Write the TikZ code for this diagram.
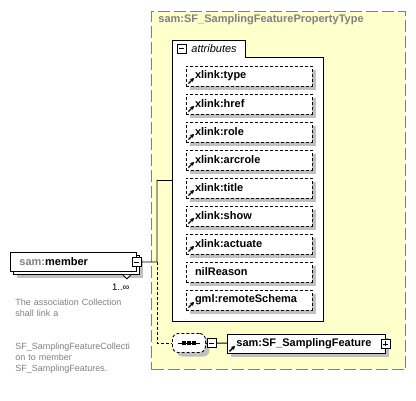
\documentclass[tikz,border=0pt]{standalone}
\usepackage{fontspec}
\setmainfont{Liberation Sans}
\usetikzlibrary{positioning, shadows, arrows.meta}
\definecolor{paleyellow}{HTML}{FFFFCC}
\definecolor{shadowgray}{HTML}{C0C0C0}
\definecolor{labelgray}{HTML}{808080}
\tikzstyle{container} = [rectangle, draw=labelgray, fill=paleyellow, dash pattern=on 12pt off 4pt, line width=1pt]
\tikzstyle{attr} = [rectangle, draw=black, dash pattern=on 3pt off 2pt, fill=white, minimum width=126pt, minimum height=20pt, inner xsep=9pt, inner ysep=0pt, outer sep=0pt, text width=108pt, align=left, font=\fontsize{11}{13}\selectfont\bfseries, drop shadow={shadow xshift=4pt, shadow yshift=-4pt, fill=shadowgray, opacity=1}]
\tikzstyle{element} = [rectangle, draw=black, fill=white, minimum height=19pt, inner xsep=9pt, inner ysep=0pt, align=left, font=\fontsize{11}{13}\selectfont\bfseries, drop shadow={shadow xshift=4pt, shadow yshift=-4pt, fill=shadowgray, opacity=1}]
\tikzstyle{compositor} = [rectangle, rounded corners=6pt, draw=black, dash pattern=on 3pt off 2pt, fill=white, minimum width=33pt, minimum height=19pt, drop shadow={shadow xshift=4pt, shadow yshift=-4pt, fill=shadowgray, opacity=1}]
\tikzstyle{collapse} = [rectangle, draw=black, fill=white, minimum size=9pt, inner sep=0pt, path picture={\draw ([xshift=2pt]path picture bounding box.west) -- ([xshift=-2pt]path picture bounding box.east);}]
\tikzstyle{expand} = [collapse, path picture={\draw ([xshift=2pt]path picture bounding box.west) -- ([xshift=-2pt]path picture bounding box.east); \draw ([yshift=-2pt]path picture bounding box.north) -- ([yshift=2pt]path picture bounding box.south);}]
\tikzstyle{linkarrow} = [line width=1.3pt, -{Stealth[length=4pt,width=4.5pt]}]
\tikzstyle{docs} = [text=labelgray, inner sep=0pt, text width=135pt, align=left, font=\fontsize{9}{11}\selectfont]

\begin{document}
\begin{tikzpicture}[x=1pt, y=-1pt, line width=0.9pt]
\useasboundingbox (0,0) rectangle (416,400);

% complex type
\node (ptype) [container, anchor=north west, minimum width=254pt, minimum height=358pt] at (151,11) {};
\node (title) [anchor=west, inner sep=0pt, text=labelgray, font=\fontsize{11}{13}\selectfont\bfseries] at (158,20) {sam:SF\_SamplingFeaturePropertyType};

% attributes group
\draw [fill=white] (172,40) -| (245,57) -| (323,321) -| (172,40) -- cycle;
\coordinate (attrs) at (172,180.5);
\node (tabc) [collapse] at (181.5,48.5) {};
\node (tabtext) [anchor=west, inner sep=0pt, font=\fontsize{11}{13}\selectfont\itshape] at (191,48.5) {attributes};

\node (atype) [attr, anchor=north west] at (186,66) {xlink:type};
\node (ahref) [attr, below=8pt of atype] {xlink:href};
\node (arole) [attr, below=8pt of ahref] {xlink:role};
\node (aarcrole) [attr, below=8pt of arole] {xlink:arcrole};
\node (atitle) [attr, below=8pt of aarcrole] {xlink:title};
\node (ashow) [attr, below=8pt of atitle] {xlink:show};
\node (aactuate) [attr, below=8pt of ashow] {xlink:actuate};
\node (anil) [attr, below=8pt of aactuate] {nilReason};
\node (aremote) [attr, below=8pt of anil] {gml:remoteSchema};

\foreach \a in {atype,ahref,arole,aarcrole,atitle,ashow,aactuate,aremote}
  \draw [linkarrow] ([shift={(2.5,-2.5)}]\a.south west) -- ++(5.5,-5.5);

% element
\node (member) [element, anchor=north west, text width=108pt, drop shadow={shadow xshift=7pt, shadow yshift=-7pt, fill=shadowgray, opacity=1}, copy shadow={shadow xshift=3pt, shadow yshift=-3pt, draw=black, fill=white}] at (10,252) {\textcolor{labelgray}{sam:}member};
\draw [fill=white, line width=0.8pt] ([shift={(-14,3)}]member.south east) -- ++(4,4) -- ++(4,-4);
\node (memberc) [collapse] at (member.east) {};
\node (card) [anchor=east, inner sep=0pt, font=\fontsize{9.5}{11}\selectfont] at ([shift={(-7,15.5)}]member.south east) {1..∞};
\node (doc) [docs, anchor=north west] at (15,299) {The association Collection\\shall link a\\~\\~\\SF\_SamplingFeatureCollecti\\on to member\\SF\_SamplingFeatures.};

% sequence
\node (seq) [compositor, anchor=west] at (172,343) {};
\draw [line width=0.9pt] ([xshift=6pt]seq.west) -- ([xshift=-6pt]seq.east);
\foreach \d in {-5,0,5}
  \fill ([xshift=\d pt]seq.center) +(-1.7,-1.7) rectangle +(1.7,1.7);
\node (seqc) [collapse, right=1pt of seq] {};
\node (feature) [element, anchor=north west, text width=140pt] at (227,334) {sam:SF\_SamplingFeature};
\draw [linkarrow] ([shift={(2.5,-2.5)}]feature.south west) -- ++(5.5,-5.5);
\node (featurec) [expand] at (feature.east) {};

% connectors
\coordinate (fork) at (157,262);
\draw (memberc) -- (fork) |- (attrs);
\draw [dash pattern=on 3pt off 2pt] (fork) |- (seq.west);
\draw (seq) -- (seqc);
\draw (seqc) -- (feature);
\end{tikzpicture}
\end{document}
